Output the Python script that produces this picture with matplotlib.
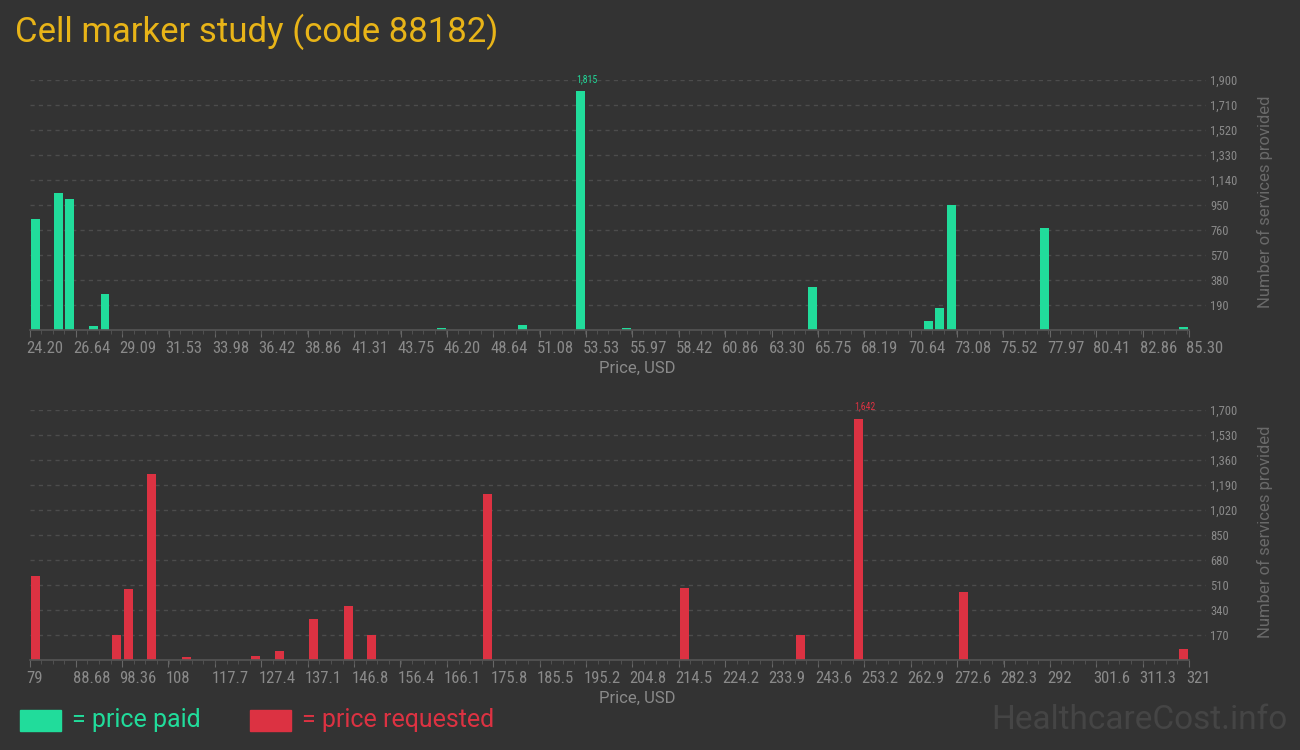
import matplotlib.pyplot as plt
import matplotlib.transforms as mtransforms
from matplotlib import font_manager
from matplotlib.patches import Rectangle

# price paid (top chart)
paid_x = [24.52, 25.73, 26.33, 27.57, 28.18, 45.91, 50.17, 53.23, 55.68,
          65.45, 71.56, 72.17, 72.78, 77.68, 85.00]
paid_n = [845, 1041, 996, 30, 274, 12, 38, 1815, 18,
          327, 68, 167, 950, 775, 23]
paid_ticks = ['24.20', '26.64', '29.09', '31.53', '33.98', '36.42', '38.86',
              '41.31', '43.75', '46.20', '48.64', '51.08', '53.53', '55.97',
              '58.42', '60.86', '63.30', '65.75', '68.19', '70.64', '73.08',
              '75.52', '77.97', '80.41', '82.86', '85.30']
paid_yticks = [190, 380, 570, 760, 950, 1140, 1330, 1520, 1710, 1900]

# price requested (bottom chart)
req_x = [80.25, 97.16, 99.56, 104.46, 111.67, 126.17, 131.08, 138.28,
         145.58, 150.38, 174.6, 215.8, 240.0, 252.1, 273.9, 319.9]
req_n = [571, 170, 483, 1265, 20, 27, 61, 279,
         367, 170, 1129, 490, 170, 1642, 462, 75]
req_ticks = ['79', '88.68', '98.36', '108', '117.7', '127.4', '137.1',
             '146.8', '156.4', '166.1', '175.8', '185.5', '195.2', '204.8',
             '214.5', '224.2', '233.9', '243.6', '253.2', '262.9', '272.6',
             '282.3', '292', '301.6', '311.3', '321']
req_yticks = [170, 340, 510, 680, 850, 1020, 1190, 1360, 1530, 1700]

BG = '#333333'
GREEN = '#21dc9b'
RED = '#dc3242'
GOLD = '#e8b418'
TXT = '#8a8a8a'

# use a condensed face if there is one, else plain Roboto a bit smaller
names = {f.name for f in font_manager.fontManager.ttflist}
narrow = [n for n in ('Roboto Condensed', 'Liberation Sans Narrow') if n in names]
if narrow:
    NARROW, XT_SIZE, YT_SIZE = narrow[0], 12, 9
else:
    NARROW, XT_SIZE, YT_SIZE = 'Roboto', 10, 8

fig = plt.figure(figsize=(13, 7.5), dpi=100, facecolor=BG)


def draw(ax, xs, ns, ticks, yticks, color, width):
    tickvals = [float(t) for t in ticks]
    step = tickvals[1] - tickvals[0]
    ax.set_facecolor(BG)
    ax.bar(xs, ns, width=width, color=color, zorder=3)
    ax.set_xlim(tickvals[0], tickvals[0] + 1176.5 / 1159.5 * (tickvals[-1] - tickvals[0]))
    ax.set_ylim(0, yticks[-1])
    for s in ax.spines.values():
        s.set_visible(False)
    ax.plot([tickvals[0], tickvals[-1]], [0, 0], color='#555555', lw=1.2,
            zorder=4, clip_on=False)

    ax.set_xticks(tickvals)
    ax.set_xticklabels(ticks, fontsize=XT_SIZE, color=TXT, family=NARROW, ha='left')
    minor = [tickvals[0] + step * i / 4 for i in range(4 * (len(tickvals) - 1) + 1)]
    ax.set_xticks(minor, minor=True)
    ax.tick_params(axis='x', which='major', length=5, color='#666666', pad=3)
    ax.tick_params(axis='x', which='minor', length=3, color='#555555')
    offset = mtransforms.ScaledTranslation(-3 / 100, 0, fig.dpi_scale_trans)
    for lab in ax.get_xticklabels():
        lab.set_transform(lab.get_transform() + offset)

    ax.yaxis.tick_right()
    ax.set_yticks(yticks)
    ax.set_yticklabels([f'{v:,}' for v in yticks], fontsize=YT_SIZE, color=TXT,
                       family=NARROW)
    ax.tick_params(axis='y', length=0, pad=3)
    ax.grid(axis='y', color='#4c4c4c', linestyle=(0, (3, 3)), lw=1, zorder=0)

    i = ns.index(max(ns))
    ax.annotate(f'{ns[i]:,}', (xs[i] - width / 2, ns[i]), xytext=(0, 5),
                textcoords='offset points', ha='left', va='bottom',
                fontsize=7, color=color, family=NARROW)


ax1 = fig.add_axes([29.5 / 1300, 420 / 750, 1176.5 / 1300, 250 / 750])
draw(ax1, paid_x, paid_n, paid_ticks, paid_yticks, GREEN, 0.47)
ax2 = fig.add_axes([29.5 / 1300, 90 / 750, 1176.5 / 1300, 250 / 750])
draw(ax2, req_x, req_n, req_ticks, req_yticks, RED, 1.88)

fig.text(15 / 1300, 1 - 32 / 750, 'Cell marker study (code 88182)', color=GOLD,
         fontsize=25, family='Roboto', va='center', ha='left')

for yc in (201.5, 531.5):
    fig.text(1265 / 1300, 1 - yc / 750, 'Number of services provided',
             rotation=90, color='#6a6a6a', fontsize=12, family='Roboto',
             ha='center', va='center')
for yc in (368, 698):
    fig.text(637 / 1300, 1 - yc / 750, 'Price, USD', color=TXT, fontsize=12,
             family='Roboto', ha='center', va='center')

# legend
fig.patches.append(Rectangle((20 / 1300, 1 - 731 / 750), 41 / 1300, 21 / 750,
                             transform=fig.transFigure, color=GREEN))
fig.text(72 / 1300, 1 - 720 / 750, '= price paid', color=GREEN, fontsize=18,
         family='Roboto', va='center', ha='left')
fig.patches.append(Rectangle((250 / 1300, 1 - 731 / 750), 41 / 1300, 21 / 750,
                             transform=fig.transFigure, color=RED))
fig.text(302 / 1300, 1 - 720 / 750, '= price requested', color=RED, fontsize=18,
         family='Roboto', va='center', ha='left')

fig.text(1287 / 1300, 1 - 720 / 750, 'HealthcareCost.info', color='#454545',
         fontsize=24, family='Roboto', ha='right', va='center')

fig.savefig('out.png', dpi=100, facecolor=BG)
